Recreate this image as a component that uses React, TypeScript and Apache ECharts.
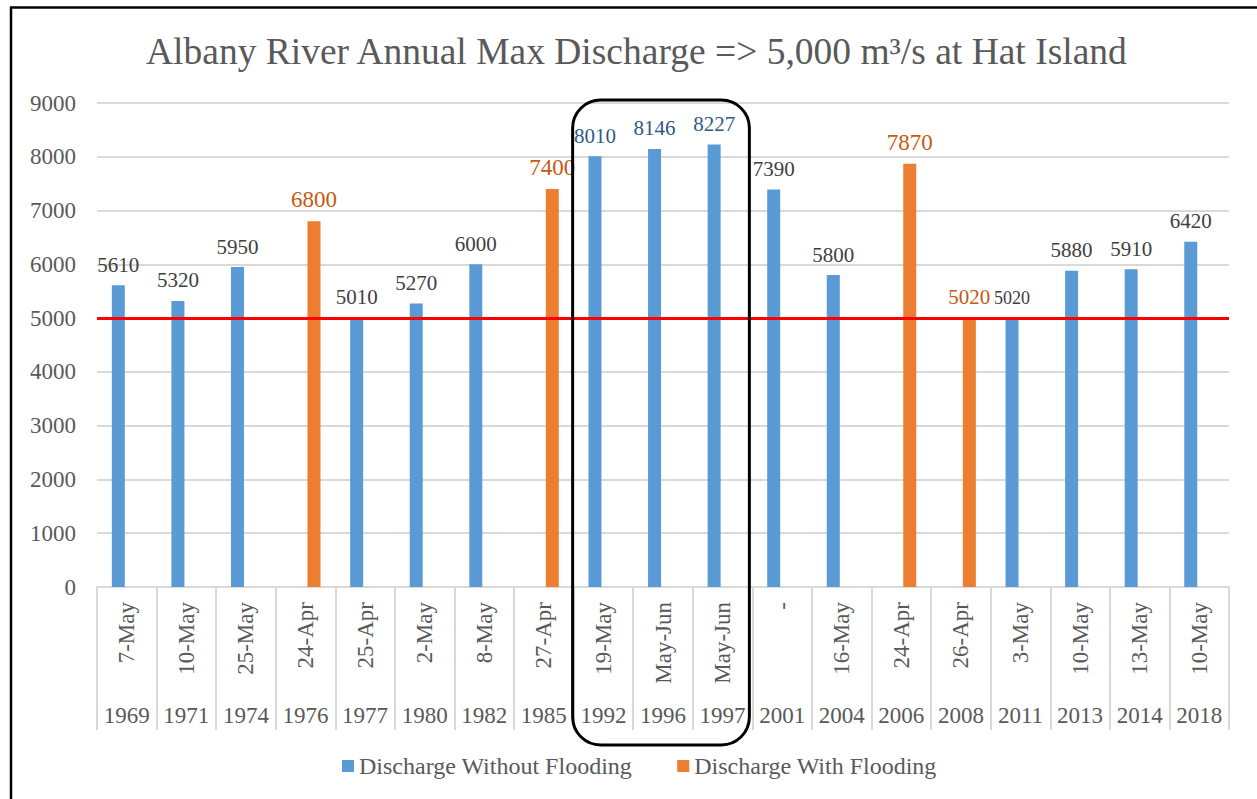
import React, { useEffect, useRef } from "react";
import * as echarts from "echarts";

const years = ["1969", "1971", "1974", "1976", "1977", "1980", "1982", "1985", "1992", "1996", "1997", "2001", "2004", "2006", "2008", "2011", "2013", "2014", "2018"];
const dates = ["7-May", "10-May", "25-May", "24-Apr", "25-Apr", "2-May", "8-May", "27-Apr", "19-May", "May-Jun", "May-Jun", "-", "16-May", "24-Apr", "26-Apr", "3-May", "10-May", "13-May", "10-May"];
const withoutFlooding: (number | null)[] = [5610, 5320, 5950, null, 5010, 5270, 6000, null, 8010, 8146, 8227, 7390, 5800, null, null, 5020, 5880, 5910, 6420];
const withFlooding: (number | null)[] = [null, null, null, 6800, null, null, null, 7400, null, null, null, null, null, 7870, 5020, null, null, null, null];
const yTicks = [0, 1000, 2000, 3000, 4000, 5000, 6000, 7000, 8000, 9000];
const threshold = 5000;
const highlightedYears = ["1992", "1996", "1997"];

const FONT = "'Liberation Serif', 'Times New Roman', serif";
const GREY = "#595959";

export default function App() {
  const ref = useRef<HTMLDivElement>(null);
  useEffect(() => {
    if (!ref.current) return;
    const chart = echarts.init(ref.current, null, { renderer: "svg" });

    const blueData = withoutFlooding.map((v, i) => {
      const hl = highlightedYears.includes(years[i]);
      const small = years[i] === "2011";
      return {
        value: v,
        label: {
          color: hl ? "#2E5A88" : "#404040",
          fontSize: small ? 18 : 21,
          fontFamily: FONT,
        },
      };
    });
    const orangeData = withFlooding.map((v, i) => ({
      value: v,
      label: { fontSize: years[i] === "2008" ? 21 : 23, fontFamily: FONT },
    }));

    const txt = (size: number, color: string) => ({ fontFamily: FONT, fontSize: size, color, fontWeight: "normal" as const });

    const option: any = {
      animation: false,
      backgroundColor: "#ffffff",
      textStyle: { fontFamily: FONT },
      title: {
        text: "Albany River Annual Max Discharge => 5,000 m³/s at Hat Island",
        left: 141,
        top: 27,
        textStyle: txt(37.5, GREY),
      },
      legend: {
        bottom: 16,
        left: 337,
        itemWidth: 12,
        itemHeight: 12,
        itemGap: 45,
        icon: "rect",
        textStyle: txt(24, GREY),
        data: ["Discharge Without Flooding", "Discharge With Flooding"],
      },
      grid: { left: 97, right: 28, top: 103, bottom: 212, containLabel: false },
      xAxis: [
        {
          type: "category",
          data: dates,
          position: "bottom",
          axisLine: { show: true, lineStyle: { color: "#d9d9d9", width: 2 } },
          axisTick: { show: true, length: 143, lineStyle: { color: "#d9d9d9", width: 2 } },
          axisLabel: { rotate: 90, margin: 15, interval: 0, ...txt(23, GREY) },
        },
        {
          type: "category",
          data: years,
          position: "bottom",
          axisLine: { show: false },
          axisTick: { show: false },
          axisLabel: { margin: 117, interval: 0, ...txt(23, GREY) },
        },
      ],
      yAxis: {
        type: "value",
        min: yTicks[0],
        max: yTicks[yTicks.length - 1],
        interval: 1000,
        axisLine: { show: false },
        axisTick: { show: false },
        axisLabel: { margin: 21, formatter: (v: number) => String(v), ...txt(23, GREY) },
        splitLine: { lineStyle: { color: "#d9d9d9", width: 2 } },
      },
      series: [
        {
          name: "Discharge Without Flooding",
          type: "bar",
          xAxisIndex: 0,
          data: blueData,
          barWidth: 13,
          barGap: "30%",
          itemStyle: { color: "#5B9BD5" },
          label: { show: true, position: "top", distance: 10, ...txt(21, "#404040") },
          markLine: {
            silent: true,
            symbol: "none",
            label: { show: false },
            lineStyle: { color: "#FF0000", width: 3, type: "solid" },
            data: [{ yAxis: threshold }],
          },
        },
        {
          name: "Discharge With Flooding",
          type: "bar",
          xAxisIndex: 0,
          data: orangeData,
          barWidth: 13,
          barGap: "30%",
          itemStyle: { color: "#ED7D31" },
          label: { show: true, position: "top", distance: 10, ...txt(23, "#C55A11") },
        },
      ],
    };
    chart.setOption(option);

    const first = years.indexOf(highlightedYears[0]);
    const last = years.indexOf(highlightedYears[highlightedYears.length - 1]);
    const c0 = chart.convertToPixel({ xAxisIndex: 0 }, first) as number;
    const c1 = chart.convertToPixel({ xAxisIndex: 0 }, first + 1) as number;
    const band = c1 - c0;
    const cl = chart.convertToPixel({ xAxisIndex: 0 }, last) as number;
    const yTop = chart.convertToPixel({ yAxisIndex: 0 }, yTicks[yTicks.length - 1]) as number;
    const yZero = chart.convertToPixel({ yAxisIndex: 0 }, 0) as number;
    const rx = c0 - band / 2 - 1;
    const rw = cl + band / 2 - 3 - rx;

    chart.setOption({
      graphic: [
        {
          type: "rect",
          shape: { x: rx, y: yTop - 3, width: rw, height: yZero + 158 - (yTop - 3), r: 28 },
          style: { fill: "none", stroke: "#000", lineWidth: 3 },
          z: 100,
        },
        { type: "line", shape: { x1: 10, y1: 7.5, x2: 1257, y2: 7.5 }, style: { stroke: "#000", lineWidth: 2.5 }, z: 100 },
        { type: "line", shape: { x1: 11, y1: 7, x2: 11, y2: 799 }, style: { stroke: "#000", lineWidth: 2.5 }, z: 100 },
      ],
    });

    return () => chart.dispose();
  }, []);
  return <div ref={ref} style={{ position: "absolute", left: 0, top: 0, width: 1257, height: 799 }} />;
}
